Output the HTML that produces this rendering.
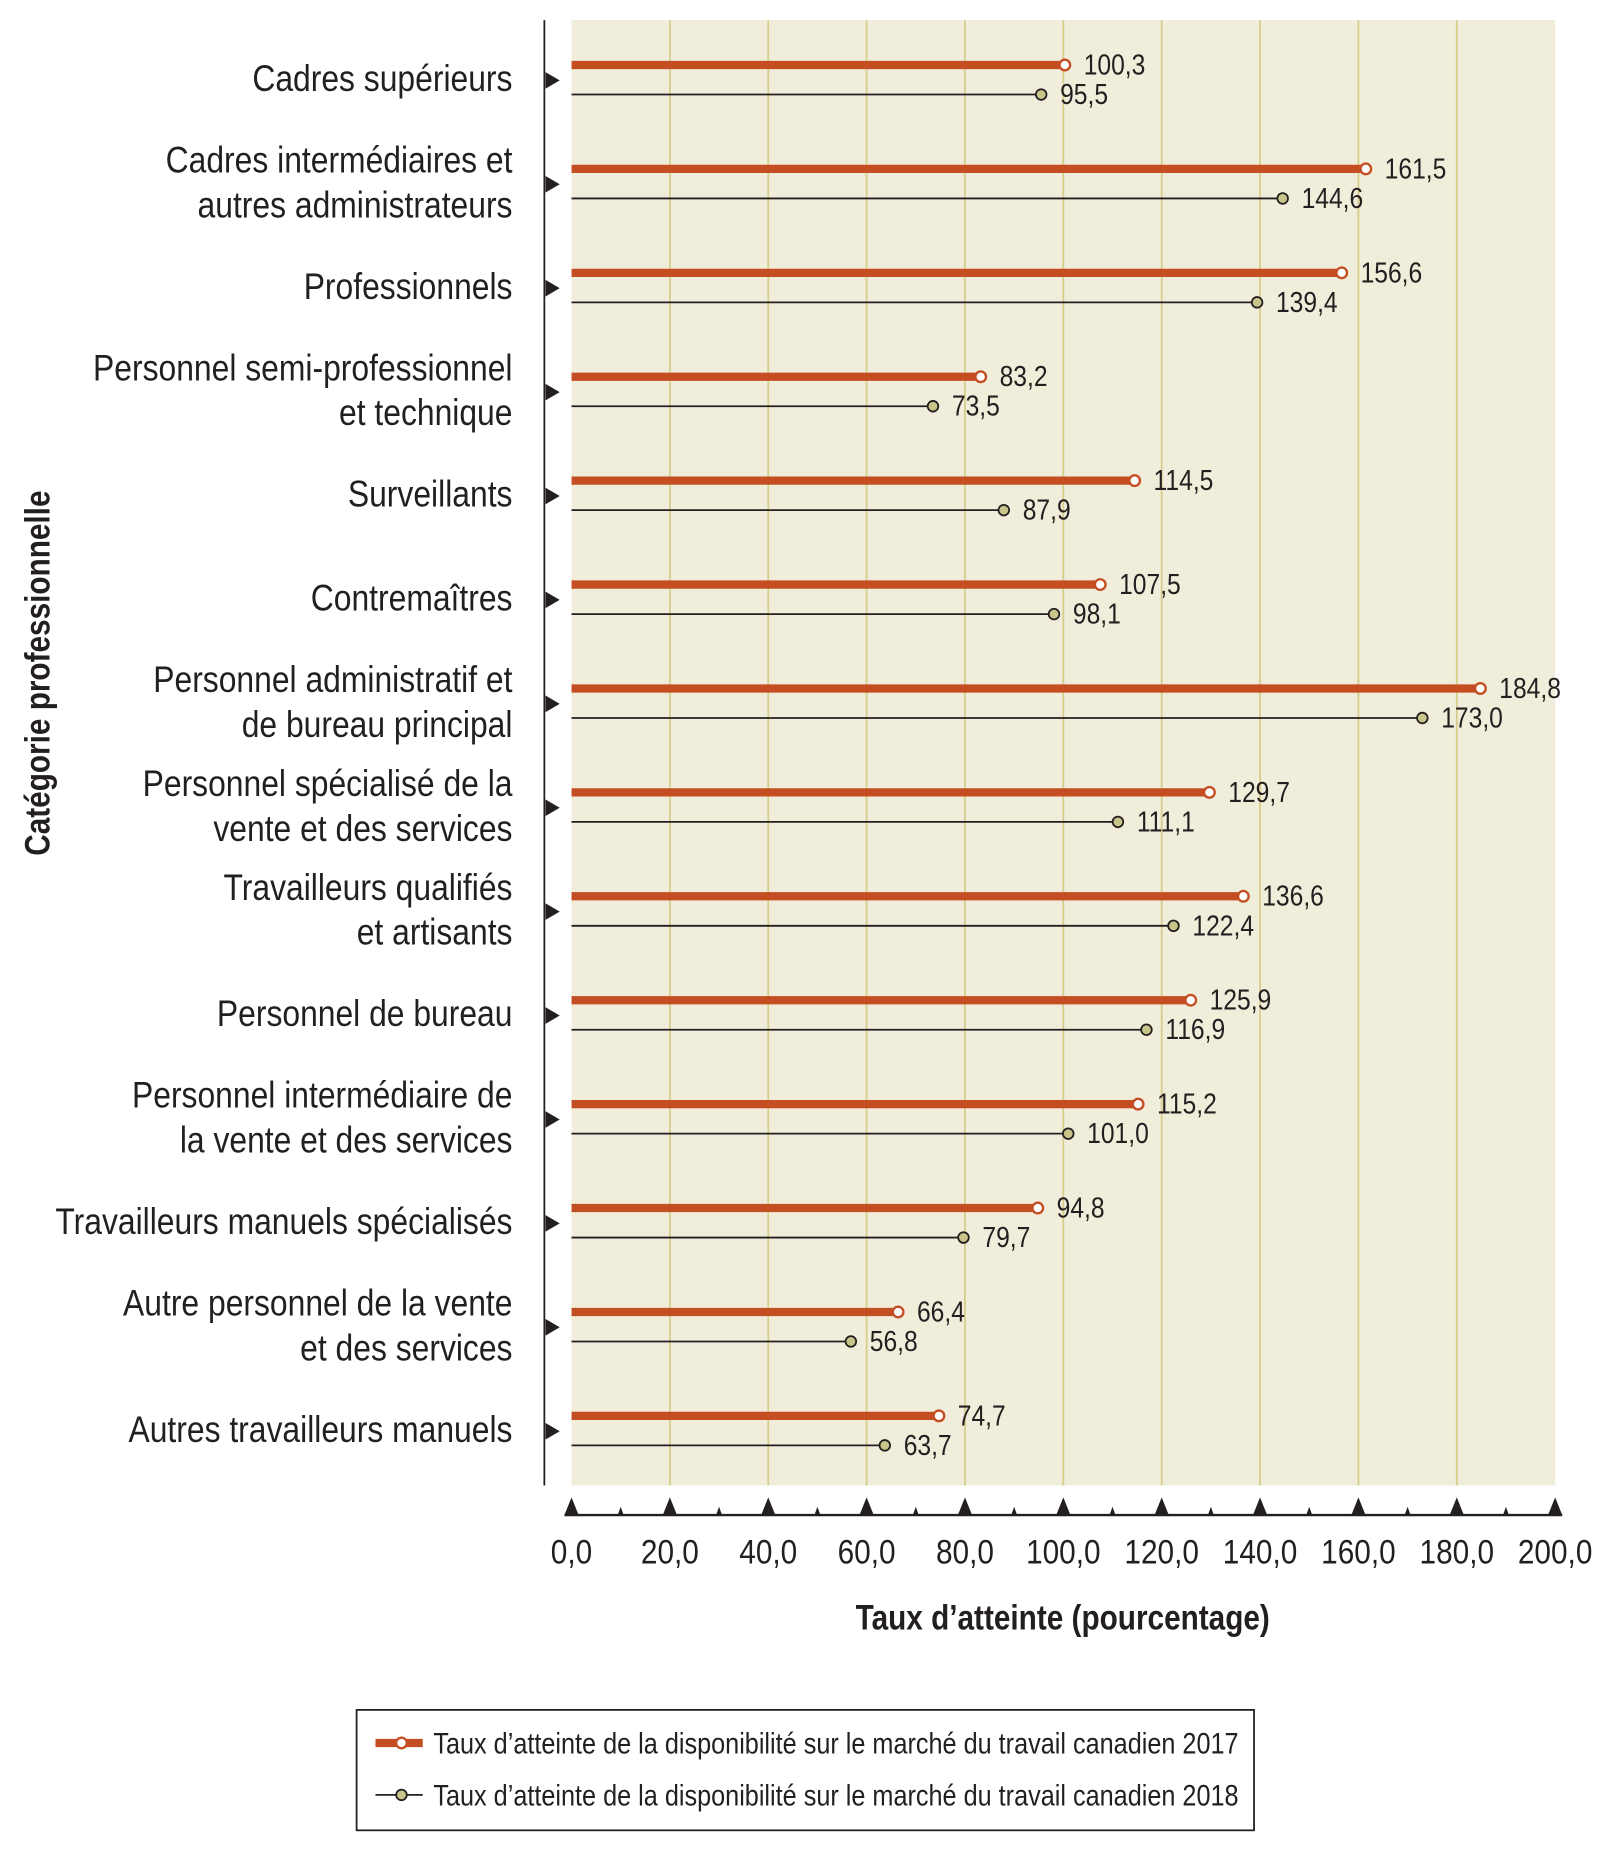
<!DOCTYPE html>
<html><head><meta charset="utf-8"><style>
html,body{margin:0;padding:0;background:#fff}
svg{display:block}
text{font-family:"Liberation Sans Narrow","Liberation Sans",sans-serif;fill:#231f20}
</style></head><body>
<svg id="chart" width="1613" height="1854" viewBox="0 0 1366 1570" xmlns="http://www.w3.org/2000/svg">
<rect x="484" y="17" width="833" height="1241" fill="#f1eddb"/>
<g id="grid"></g>
<line x1="461" y1="17" x2="461" y2="1258" stroke="#231f20" stroke-width="1.5"/>
<g id="xaxis"></g>
<g id="cats"></g>
<g id="marks"></g>
<text x="900" y="1380" text-anchor="middle" font-size="30" font-weight="bold" data-k="0.84">Taux d’atteinte (pourcentage)</text>
<text transform="translate(42,570) rotate(-90)" text-anchor="middle" font-size="30" font-weight="bold" data-k="0.84">Catégorie professionnelle</text>
<g>
<rect x="302" y="1448" width="760" height="102" fill="#fff" stroke="#231f20" stroke-width="1.5"/>
<g>
<line x1="318" y1="1476" x2="358" y2="1476" stroke="#c44e22" stroke-width="7"/>
<circle cx="340" cy="1476" r="4.5" fill="#fff" stroke="#c44e22" stroke-width="2"/>
<text x="367" y="1485" font-size="25" data-k="0.855">Taux d’atteinte de la disponibilité sur le marché du travail canadien 2017</text>
</g>
<g>
<line x1="318" y1="1520" x2="358" y2="1520" stroke="#231f20" stroke-width="1.5"/>
<circle cx="340" cy="1520" r="4.5" fill="#c8c48a" stroke="#231f20" stroke-width="1.5"/>
<text x="367" y="1529" font-size="25" data-k="0.855">Taux d’atteinte de la disponibilité sur le marché du travail canadien 2018</text>
</g>
</g>
</svg>
<script>
const categories = [
 ["Cadres supérieurs"],
 ["Cadres intermédiaires et","autres administrateurs"],
 ["Professionnels"],
 ["Personnel semi-professionnel","et technique"],
 ["Surveillants"],
 ["Contremaîtres"],
 ["Personnel administratif et","de bureau principal"],
 ["Personnel spécialisé de la","vente et des services"],
 ["Travailleurs qualifiés","et artisants"],
 ["Personnel de bureau"],
 ["Personnel intermédiaire de","la vente et des services"],
 ["Travailleurs manuels spécialisés"],
 ["Autre personnel de la vente","et des services"],
 ["Autres travailleurs manuels"]
];
const values2017 = [100.3,161.5,156.6,83.2,114.5,107.5,184.8,129.7,136.6,125.9,115.2,94.8,66.4,74.7];
const values2018 = [95.5,144.6,139.4,73.5,87.9,98.1,173.0,111.1,122.4,116.9,101.0,79.7,56.8,63.7];
const xTicks = [0,20,40,60,80,100,120,140,160,180,200];

const NS="http://www.w3.org/2000/svg";
const X0=484,X1=1317,XMAX=200;
const xs=v=>X0+(v/XMAX)*(X1-X0);
const rowY=i=>55+i*88.0;
const fmt=v=>v.toFixed(1).replace('.',',');
function mk(tag,attrs,parent){const e=document.createElementNS(NS,tag);for(const k in attrs)e.setAttribute(k,attrs[k]);parent.appendChild(e);return e;}
const grid=document.getElementById('grid'),xa=document.getElementById('xaxis'),cats=document.getElementById('cats'),marks=document.getElementById('marks');

xTicks.forEach((t,i)=>{
 const x=xs(t);
 if(t>0&&t<XMAX){const g=mk('line',{x1:x,y1:17,x2:x,y2:1258,stroke:'#d6cd8a','stroke-width':1.5},grid);
 
 }
 const tr=mk('polygon',{points:`${x-6},1283 ${x+6},1283 ${x},1268`,fill:'#231f20'},xa);
 
 
 if(i<xTicks.length-1){const xm=xs(t+10);
 const m=mk('polygon',{points:`${xm-2.5},1283 ${xm+2.5},1283 ${xm},1276`,fill:'#231f20'},xa);
 
 }
 const lb=mk('text',{x:x,y:1324,'text-anchor':'middle','font-size':29},xa);
 lb.textContent=fmt(t);
 
 
});
const base=mk('line',{x1:xs(0)-6,y1:1283,x2:xs(XMAX)+6,y2:1283,stroke:'#231f20','stroke-width':2},xa);



categories.forEach((lines,i)=>{
 const y=rowY(i);
 const ar=mk('polygon',{points:`${462},${y+6} ${462},${y+20} ${474},${y+13}`,fill:'#231f20'},cats);
 
 
 const t=mk('text',{x:434,'text-anchor':'end','font-size':31},cats);
 
 
 if(lines.length===1){t.setAttribute('y',y+22);t.textContent=lines[0];}
 else{lines.forEach((ln,j)=>{const s=mk('tspan',{x:434,y:y+3+j*38},t);s.textContent=ln;});}
 const v1=values2017[i],x1=xs(v1);
 const l1=mk('line',{x1:X0,y1:y,x2:x1,y2:y,stroke:'#c44e22','stroke-width':7},marks);
 
 
 const c1=mk('circle',{cx:x1,cy:y,r:4.5,fill:'#fff',stroke:'#c44e22','stroke-width':2},marks);
 
 
 const t1=mk('text',{x:x1+16,y:y+8,'font-size':24},marks);
 t1.textContent=fmt(v1);
 
 
 const v2=values2018[i],x2=xs(v2),y2=y+25;
 const l2=mk('line',{x1:X0,y1:y2,x2:x2,y2:y2,stroke:'#231f20','stroke-width':1.5},marks);
 
 
 const c2=mk('circle',{cx:x2,cy:y2,r:4.5,fill:'#c8c48a',stroke:'#231f20','stroke-width':1.5},marks);
 
 
 const t2=mk('text',{x:x2+16,y:y2+8,'font-size':24},marks);
 t2.textContent=fmt(v2);
 
 
});
document.querySelectorAll('#chart text').forEach(t=>{
 const k=parseFloat(t.getAttribute('data-k')||'0.87');
 const spans=t.querySelectorAll('tspan');
 const items=spans.length?Array.from(spans):[t];
 items.forEach(s=>{const L=s.getComputedTextLength();s.setAttribute('textLength',(L*k).toFixed(1));s.setAttribute('lengthAdjust','spacingAndGlyphs');});
});
</script>
</body></html>
